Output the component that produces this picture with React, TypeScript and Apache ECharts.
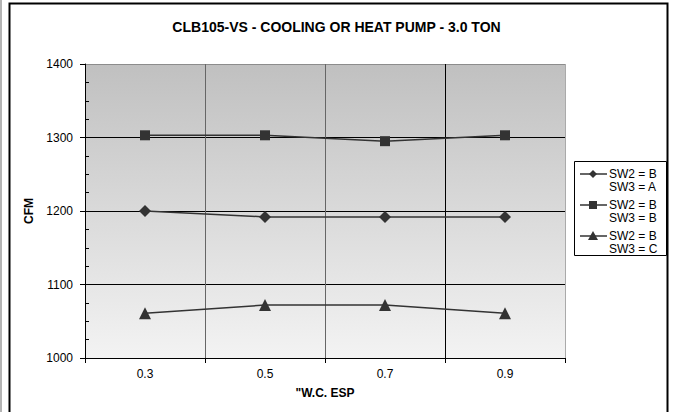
import React, { useEffect, useRef } from "react";
import * as echarts from "echarts";

const titleText = "CLB105-VS - COOLING OR HEAT PUMP - 3.0 TON";
const categories = ["0.3", "0.5", "0.7", "0.9"];
const seriesA = [1200, 1192, 1192, 1192];
const seriesB = [1303, 1303, 1295, 1303];
const seriesC = [1061, 1072, 1072, 1061];
const legendA = ["SW2 = B", "SW3 = A"];
const legendB = ["SW2 = B", "SW3 = B"];
const legendC = ["SW2 = B", "SW3 = C"];
const yMin = 1000;
const yMax = 1400;
const yInterval = 100;
const xName = '"W.C. ESP';
const yName = "CFM";

const FONT = 'Arial, "Liberation Sans", sans-serif';

export default function App() {
  const ref = useRef<HTMLDivElement>(null);
  useEffect(() => {
    if (!ref.current) return;
    const chart = echarts.init(ref.current, null, { renderer: "svg" });

    const seriesDefs = [
      { data: seriesA, symbol: "diamond", size: 12, legend: legendA },
      { data: seriesB, symbol: "rect", size: 10, legend: legendB },
      { data: seriesC, symbol: "triangle", size: 12, legend: legendC },
    ];

    const legendX = 574;
    const legendY = 161;
    const itemYs = [174, 205, 236];
    const legendChildren: any[] = [
      {
        type: "rect",
        shape: { x: legendX + 0.5, y: legendY + 0.5, width: 92, height: 94 },
        style: { fill: "#fff", stroke: "#000", lineWidth: 1 },
      },
    ];
    seriesDefs.forEach((s, i) => {
      const cy = itemYs[i];
      legendChildren.push({
        type: "line",
        shape: { x1: 580, y1: cy, x2: 607, y2: cy },
        style: { stroke: "#333", lineWidth: 1.5 },
      });
      const mx = 593;
      if (s.symbol === "diamond") {
        legendChildren.push({
          type: "polygon",
          shape: { points: [[mx, cy - 4], [mx + 4, cy], [mx, cy + 4], [mx - 4, cy]] },
          style: { fill: "#333" },
        });
      } else if (s.symbol === "rect") {
        legendChildren.push({
          type: "rect",
          shape: { x: mx - 4, y: cy - 4, width: 8, height: 8 },
          style: { fill: "#333" },
        });
      } else {
        legendChildren.push({
          type: "polygon",
          shape: { points: [[mx, cy - 5], [mx + 5, cy + 4], [mx - 5, cy + 4]] },
          style: { fill: "#333" },
        });
      }
      s.legend.forEach((t, j) => {
        legendChildren.push({
          type: "text",
          x: 609,
          y: cy + j * 13,
          style: {
            text: t,
            fill: "#000",
            font: `12px ${FONT}`,
            verticalAlign: "middle",
            align: "left",
          },
        });
      });
    });

    const option: any = {
      animation: false,
      backgroundColor: "#fff",
      title: {
        text: titleText,
        left: "center",
        top: 15,
        textStyle: { fontFamily: FONT, fontSize: 14, fontWeight: "bold", color: "#000" },
      },
      grid: {
        left: 85,
        right: 108,
        top: 64,
        bottom: 54,
        show: true,
        borderWidth: 0,
        backgroundColor: new echarts.graphic.LinearGradient(0, 0, 0, 1, [
          { offset: 0, color: "#c0c0c0" },
          { offset: 1, color: "#f3f3f3" },
        ]),
      },
      xAxis: {
        type: "category",
        data: categories,
        boundaryGap: true,
        name: xName,
        nameLocation: "middle",
        nameGap: 29,
        nameTextStyle: { fontFamily: FONT, fontSize: 12, fontWeight: "bold", color: "#000" },
        axisLine: { show: true, lineStyle: { color: "#000", width: 1 } },
        axisTick: { show: true, length: 5, lineStyle: { color: "#000" }, alignWithLabel: false },
        axisLabel: { fontFamily: FONT, fontSize: 12, color: "#000", margin: 10 },
        splitLine: {
          show: true,
          lineStyle: { color: ["#000", "#666", "#666", "#000", "#aaa"], width: 1 },
        },
      },
      yAxis: {
        type: "value",
        min: yMin,
        max: yMax,
        interval: yInterval,
        name: yName,
        nameLocation: "middle",
        nameRotate: 90,
        nameGap: 50,
        nameTextStyle: { fontFamily: FONT, fontSize: 12, fontWeight: "bold", color: "#000" },
        axisLine: { show: true, lineStyle: { color: "#000", width: 1 } },
        axisTick: { show: true, inside: true, length: -5, lineStyle: { color: "#000" } },
        minorTick: { show: true, splitNumber: 4, length: 4, lineStyle: { color: "#000" } },
        axisLabel: {
          fontFamily: FONT,
          fontSize: 12,
          color: "#000",
          margin: 12,
          formatter: (v: number) => String(v),
        },
        splitLine: {
          show: true,
          lineStyle: { color: ["#000", "#000", "#000", "#000", "#8c8c8c"], width: 1 },
        },
      },
      graphic: [
        {
          type: "rect",
          shape: { x: 0, y: 0, width: 2, height: 412 },
          style: { fill: "#b4b4b4" },
          silent: true,
        },
        {
          type: "rect",
          shape: { x: 9.5, y: 3.5, width: 658, height: 430 },
          style: { fill: "none", stroke: "#000", lineWidth: 2 },
          silent: true,
        },
        { type: "group", children: legendChildren },
      ],
      series: seriesDefs.map((s) => ({
        type: "line",
        name: s.legend.join(" "),
        data: s.data,
        symbol: s.symbol,
        symbolSize: s.size,
        lineStyle: { color: "#333", width: 1.5 },
        itemStyle: { color: "#333" },
        z: 5,
      })),
    };
    chart.setOption(option);
    return () => chart.dispose();
  }, []);
  return (
    <div
      ref={ref}
      style={{ position: "absolute", left: 0, top: 0, width: 673, height: 412 }}
    />
  );
}
